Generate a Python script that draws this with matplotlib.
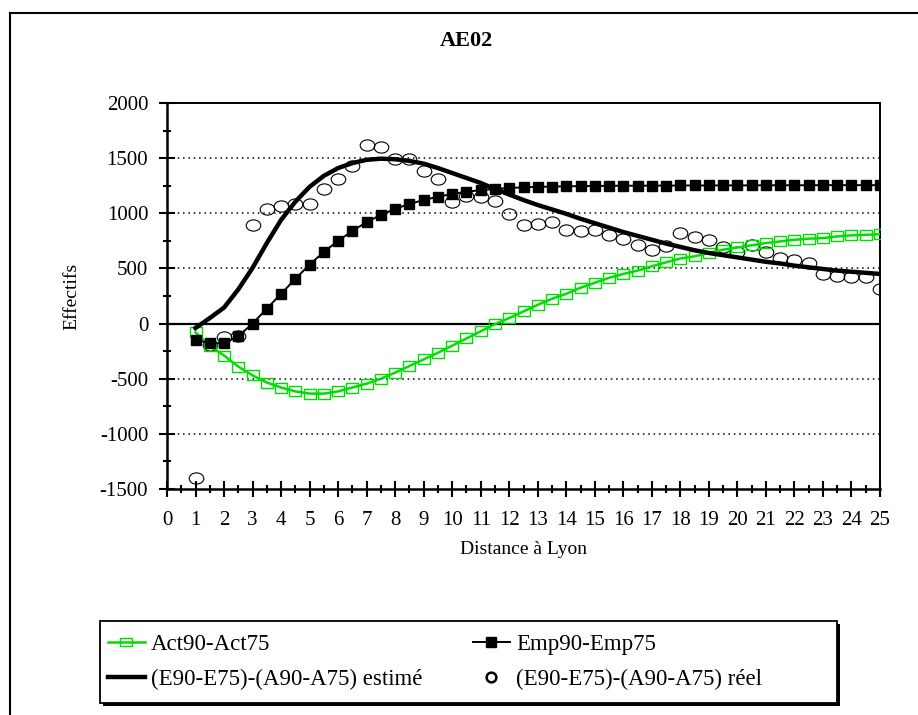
import matplotlib.pyplot as plt
from matplotlib.lines import Line2D
from matplotlib.patches import Rectangle
from matplotlib.path import Path
import numpy as np

plt.rcParams['font.family'] = ['Liberation Serif', 'DejaVu Serif']
plt.rcParams['axes.unicode_minus'] = False

# distance steps 1 .. 25 by 0.5
distance = np.arange(1, 25.5, 0.5)

act = [-80, -200, -290, -390, -470, -535, -580, -615, -635, -635,
       -615, -580, -545, -500, -445, -385, -325, -265, -200, -135,
       -70, -5, 50, 110, 170, 225, 270, 325, 370, 415,
       450, 480, 520, 555, 590, 610, 640, 670, 690, 710,
       730, 745, 760, 770, 775, 790, 800, 805, 810]

emp = [-145, -180, -175, -115, 0, 135, 270, 405, 535, 650,
       750, 840, 920, 985, 1040, 1085, 1120, 1150, 1175, 1195,
       1210, 1220, 1230, 1235, 1240, 1242, 1245, 1246, 1248, 1249,
       1250, 1250, 1251, 1251, 1252, 1252, 1252, 1253, 1253, 1253,
       1254, 1254, 1254, 1254, 1255, 1255, 1255, 1255, 1255]

estime = [-40, 50, 145, 310, 505, 730, 940, 1105, 1240, 1340,
          1410, 1455, 1485, 1495, 1490, 1475, 1450, 1410, 1365, 1320,
          1275, 1220, 1170, 1120, 1075, 1035, 995, 950, 910, 870,
          830, 795, 760, 725, 695, 665, 640, 620, 600, 580,
          560, 545, 525, 510, 495, 480, 470, 460, 450]

reel = [-1400, -190, -120, -110, 890, 1040, 1070, 1085, 1085, 1220,
        1310, 1425, 1615, 1600, 1490, 1490, 1380, 1315, 1100, 1160,
        1150, 1115, 995, 895, 905, 925, 850, 835, 845, 805,
        765, 715, 670, 700, 820, 785, 755, 695, 645, 715,
        645, 595, 575, 550, 445, 430, 425, 425, 310]

labels = ['Act90-Act75', '(E90-E75)-(A90-A75) estimé',
          'Emp90-Emp75', '(E90-E75)-(A90-A75) réel']

green = '#00dd00'

# markers are a bit wider than tall in the original
rect_mk = Path([(-0.62, -0.5), (0.62, -0.5), (0.62, 0.5), (-0.62, 0.5),
                (-0.62, -0.5)],
               [Path.MOVETO, Path.LINETO, Path.LINETO, Path.LINETO,
                Path.CLOSEPOLY])
circ = Path.unit_circle()
ell_mk = Path(circ.vertices * np.array([1.3, 1.0]), circ.codes)

W, H = 918, 715
fig = plt.figure(figsize=(W / 100, H / 100), dpi=100)
ax = fig.add_axes([167 / W, 1 - 489 / H, 713 / W, 386 / H])

# outer frame
fig.add_artist(Line2D([10 / W, 1.0], [1 - 13 / H, 1 - 13 / H],
                      transform=fig.transFigure, color='black', lw=1.5))
fig.add_artist(Line2D([10 / W, 10 / W], [0, 1 - 13 / H],
                      transform=fig.transFigure, color='black', lw=1.5))

# grid
for yv in [500, 1000, 1500, -500, -1000]:
    ax.axhline(yv, color='black', ls=(0, (1, 2.5)), lw=1.1, zorder=1)
ax.axhline(0, color='black', lw=1.6, zorder=1)

ax.plot(distance, act, color=green, lw=1.8, marker=rect_mk, markersize=8.5,
        markerfacecolor='none', markeredgecolor=green, markeredgewidth=1,
        zorder=3)
ax.plot(distance, emp, color='black', lw=1.4, marker='s', markersize=7,
        markerfacecolor='black', zorder=4)
ax.plot(distance, estime, color='black', lw=3.2, zorder=5)
ax.plot(distance, reel, ls='none', marker=ell_mk, markersize=10.5,
        markerfacecolor='none', markeredgecolor='black', markeredgewidth=0.8,
        zorder=2)

ax.set_xlim(0, 25)
ax.set_ylim(-1500, 2000)
ax.set_xticks(range(0, 26))
ax.set_xticks(np.arange(0.5, 25, 1), minor=True)
ax.set_yticks(range(-1500, 2001, 500))
ax.set_yticks(range(-1250, 2000, 500), minor=True)

ax.tick_params(axis='both', which='major', direction='inout', length=11,
               width=1.5, labelsize=15, colors='black')
ax.tick_params(axis='both', which='minor', direction='inout', length=6,
               width=1.5)
ax.tick_params(axis='x', which='major', pad=10.5)
ax.tick_params(axis='y', which='major', pad=8)
ax.tick_params(right=False, top=False, which='both')

for side in ['left', 'bottom']:
    ax.spines[side].set_linewidth(1.8)
for side in ['top', 'right']:
    ax.spines[side].set_linewidth(1.4)

ax.set_xlabel('Distance à Lyon', fontsize=14, labelpad=8)
ax.set_ylabel('Effectifs', fontsize=14, labelpad=14)

fig.text(466 / W, 1 - 41 / H, 'AE02', fontsize=16, fontweight='bold',
         ha='center', va='center')

# legend box with dark shadow
fig.add_artist(Rectangle((103 / W, 1 - 706 / H), 737 / W, 82 / H,
                         transform=fig.transFigure, facecolor='black',
                         edgecolor='none', zorder=1))
fig.add_artist(Rectangle((100 / W, 1 - 703 / H), 737 / W, 82 / H,
                         transform=fig.transFigure, facecolor='white',
                         edgecolor='black', lw=1.3, zorder=2))

handles = [
    Line2D([], [], color=green, lw=1.8, marker=rect_mk, markersize=8,
           markerfacecolor='none', markeredgecolor=green),
    Line2D([], [], color='black', lw=3.2),
    Line2D([], [], color='black', lw=1.4, marker='s', markersize=7,
           markerfacecolor='black'),
    Line2D([], [], ls='none', marker='o', markersize=7,
           markerfacecolor='none', markeredgecolor='black',
           markeredgewidth=1.8),
]
leg = fig.legend(handles, labels, ncol=2, loc='upper left',
                 bbox_to_anchor=(108 / W, 1 - 634 / H),
                 fontsize=16.5, frameon=False, handlelength=1.6,
                 handletextpad=0.28, borderaxespad=0, borderpad=0,
                 labelspacing=0.6, columnspacing=2.2)
leg.set_zorder(3)

fig.savefig('out.png', dpi=100)
plt.close(fig)
